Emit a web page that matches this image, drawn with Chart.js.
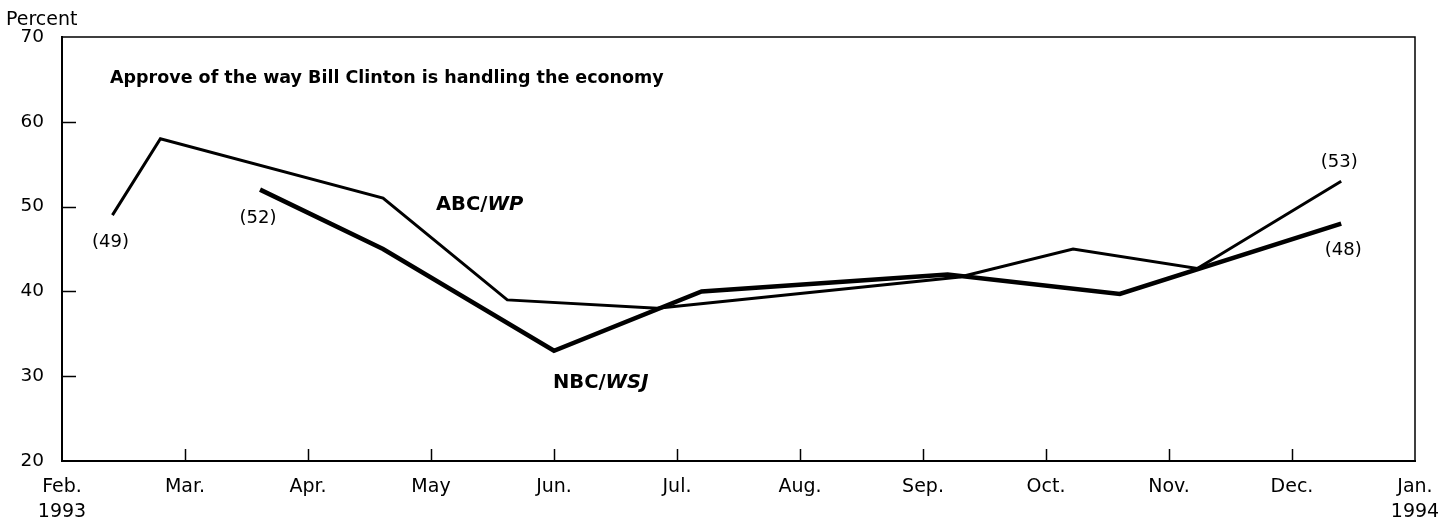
<!DOCTYPE html>
<html>
<head>
<meta charset="utf-8">
<script src="https://cdn.jsdelivr.net/npm/chart.js@4.4.1/dist/chart.umd.min.js"></script>
<style>
  html, body { margin: 0; padding: 0; background: #fff; }
  #wrap { width: 1448px; height: 521px; position: relative; }
</style>
</head>
<body>
<div id="wrap"><canvas id="c"></canvas></div>
<script>
// ---- data (x = months after Feb. 1993) ----
const monthLabels = ['Feb.', 'Mar.', 'Apr.', 'May', 'Jun.', 'Jul.', 'Aug.', 'Sep.', 'Oct.', 'Nov.', 'Dec.', 'Jan.'];
const yearLabels = { 0: '1993', 11: '1994' };
const yTicks = [20, 30, 40, 50, 60, 70];

const abcMonths = [0.41, 0.80, 2.61, 3.62, 4.84, 7.30, 8.22, 9.23, 10.40];
const abcValues = [49, 58, 51, 39, 38, 41.7, 45, 42.7, 53];

const nbcMonths = [1.61, 2.61, 4.00, 5.20, 7.20, 8.60, 10.40];
const nbcValues = [52, 45, 33, 40, 42, 39.7, 48];

const titleText = 'Approve of the way Bill Clinton is handling the economy';
const yAxisTitle = 'Percent';

const FONT = "'DejaVu Sans', 'Liberation Sans', Arial, sans-serif";
const INK = '#000';

function toPoints(xs, ys) { return xs.map((x, i) => ({ x: x, y: ys[i] })); }

const decorPlugin = {
  id: 'decor',
  afterDraw(chart) {
    const ctx = chart.ctx;
    const a = chart.chartArea;
    const xs = chart.scales.x, ys = chart.scales.y;
    ctx.save();
    ctx.strokeStyle = INK;
    // top & right frame
    ctx.lineWidth = 1.5;
    ctx.beginPath();
    ctx.moveTo(a.left, a.top); ctx.lineTo(a.right, a.top); ctx.lineTo(a.right, a.bottom);
    ctx.stroke();
    // inward y ticks
    yTicks.slice(1, -1).forEach(v => {
      const py = Math.round(ys.getPixelForValue(v)) + 0.5;
      ctx.beginPath(); ctx.moveTo(a.left, py); ctx.lineTo(a.left + 14, py); ctx.stroke();
    });
    // inward x ticks
    for (let m = 1; m < monthLabels.length - 1; m++) {
      const px = Math.round(xs.getPixelForValue(m)) + 0.5;
      ctx.beginPath(); ctx.moveTo(px, a.bottom); ctx.lineTo(px, a.bottom - 12); ctx.stroke();
    }
    // texts
    ctx.fillStyle = INK;
    ctx.textBaseline = 'alphabetic';
    ctx.textAlign = 'left';
    ctx.font = '19px ' + FONT;
    ctx.fillText(yAxisTitle, 6, 25);
    ctx.font = 'bold 17.5px ' + FONT;
    ctx.fillText(titleText, 110, 83);

    function mixed(x, y, plain, ital) {
      ctx.textAlign = 'left';
      ctx.font = 'bold 19.5px ' + FONT;
      ctx.fillText(plain, x, y);
      const w = ctx.measureText(plain).width;
      ctx.font = 'italic bold 19.5px ' + FONT;
      ctx.fillText(ital, x + w, y);
    }
    mixed(436, 210, 'ABC/', 'WP');
    mixed(553, 388, 'NBC/', 'WSJ');

    // value labels near endpoints
    ctx.font = '18px ' + FONT;
    ctx.textAlign = 'center';
    ctx.textBaseline = 'middle';
    function lab(mx, val, dx, dy) {
      ctx.fillText('(' + Math.round(val) + ')', xs.getPixelForValue(mx) + dx, ys.getPixelForValue(val) + dy);
    }
    lab(abcMonths[0], abcValues[0], -2, 27);
    lab(nbcMonths[0], nbcValues[0], -2, 29);
    lab(abcMonths[abcMonths.length - 1], abcValues[abcValues.length - 1], -2, -19);
    lab(nbcMonths[nbcMonths.length - 1], nbcValues[nbcValues.length - 1], 2, 27);
    ctx.restore();
  }
};

new Chart(document.getElementById('c'), {
  type: 'line',
  data: {
    datasets: [
      { label: 'ABC/WP', data: toPoints(abcMonths, abcValues), borderColor: INK, borderWidth: 3,
        pointRadius: 0, tension: 0, fill: false },
      { label: 'NBC/WSJ', data: toPoints(nbcMonths, nbcValues), borderColor: INK, borderWidth: 4.5,
        pointRadius: 0, tension: 0, fill: false }
    ]
  },
  options: {
    responsive: true,
    maintainAspectRatio: false,
    animation: false,
    layout: { padding: { left: 0, right: 33, top: 37, bottom: 0 } },
    plugins: { legend: { display: false }, tooltip: { enabled: false }, title: { display: false } },
    scales: {
      x: {
        type: 'linear', min: 0, max: monthLabels.length - 1,
        afterFit(s) { s.height = 60; s.paddingLeft = 0; s.paddingRight = 0; },
        afterBuildTicks(s) { s.ticks = monthLabels.map((_, i) => ({ value: i })); },
        grid: { display: false, drawTicks: false },
        border: { display: true, color: INK, width: 2 },
        ticks: {
          color: INK, font: { size: 19, family: FONT, lineHeight: 1.35 }, padding: 13,
          maxRotation: 0, autoSkip: false,
          callback(v) { const i = Math.round(v); return yearLabels[i] ? [monthLabels[i], yearLabels[i]] : monthLabels[i]; }
        }
      },
      y: {
        min: yTicks[0], max: yTicks[yTicks.length - 1],
        afterFit(s) { s.width = 62; s.paddingTop = 0; s.paddingBottom = 0; },
        afterBuildTicks(s) { s.ticks = yTicks.map(v => ({ value: v })); },
        grid: { display: false, drawTicks: false },
        border: { display: true, color: INK, width: 2 },
        ticks: { color: INK, font: { size: 18.5, family: FONT }, padding: 18 }
      }
    }
  },
  plugins: [decorPlugin]
});
</script>
</body>
</html>
